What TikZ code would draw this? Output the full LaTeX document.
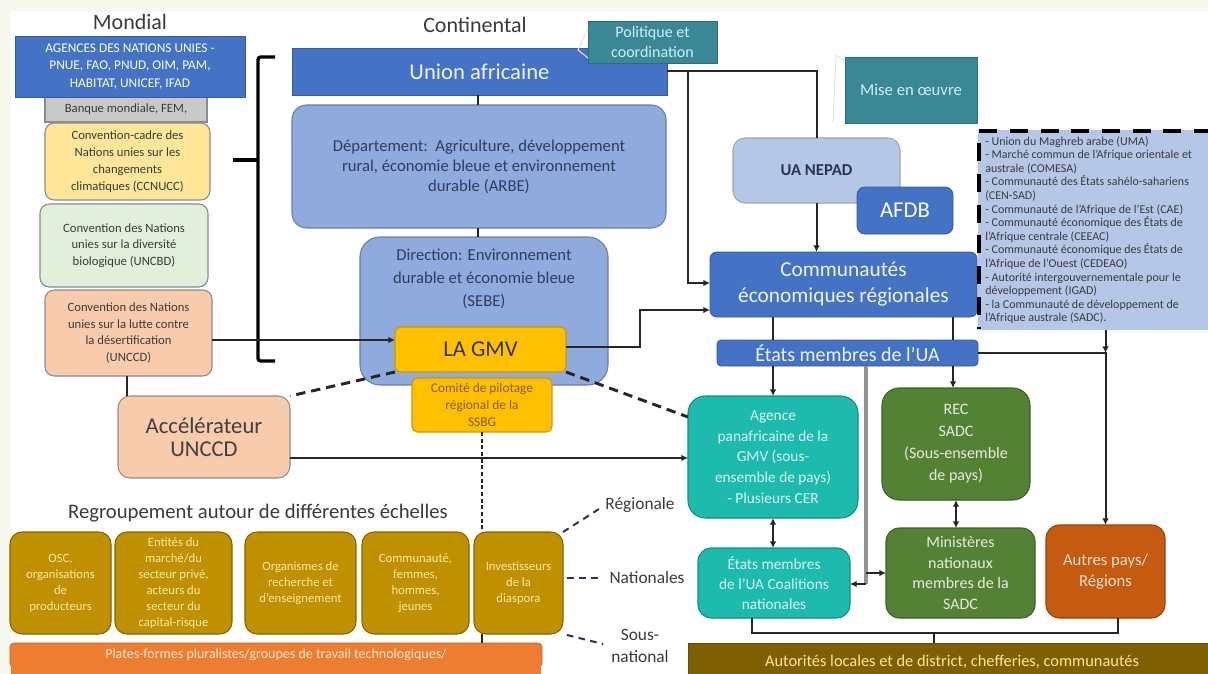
\documentclass[tikz,border=0pt]{standalone}
\usepackage{fontspec}
\setmainfont{Carlito}
\usetikzlibrary{arrows.meta,calc}
\newcommand\fs[2]{\fontsize{#1}{#2}\selectfont}
\newcommand\bx[7]{\node[box,#6,minimum width={(#4-#2)*0.75pt},minimum height={(#5-#3)*0.75pt}] (#1) at ({(#2+#4)/2},{(#3+#5)/2}) {#7};}
\definecolor{cream}{HTML}{F7F8EE}
\definecolor{ublue}{HTML}{4472C4}
\definecolor{dblue}{HTML}{8FAADC}
\definecolor{lblue}{HTML}{B4C7E7}
\definecolor{tealh}{HTML}{3A8896}
\definecolor{gold}{HTML}{FFC000}
\definecolor{olive}{HTML}{BF9000}
\definecolor{brownb}{HTML}{7F6000}
\definecolor{grn}{HTML}{548235}
\definecolor{tealb}{HTML}{1DBBAE}
\definecolor{rust}{HTML}{C55A11}
\definecolor{orng}{HTML}{ED7D31}
\definecolor{peach}{HTML}{F8CBAD}
\definecolor{lgreen}{HTML}{E2EFDA}
\definecolor{lyellow}{HTML}{FFE699}
\definecolor{lgray}{HTML}{C9C9C9}
\definecolor{ink}{HTML}{3B3B3B}
\definecolor{navyt}{HTML}{2F3D60}
\definecolor{linec}{HTML}{262626}
\definecolor{navyd}{HTML}{2A3550}
\definecolor{calloutc}{HTML}{E2ECC4}
\begin{document}
\begin{tikzpicture}[x=0.75pt,y=-0.75pt,
  box/.style={inner sep=0pt,outer sep=0pt,align=center},
  pastel/.style={draw=black!45,line width=0.8pt,text=ink},
  ln/.style={draw=linec,line width=1.5pt},
  arr/.style={ln,-{Latex[length=5pt,width=5pt]}},
  darr/.style={ln,{Latex[length=5pt,width=5pt]}-{Latex[length=5pt,width=5pt]}},
  dsh/.style={draw=linec,line width=2.2pt,dash pattern=on 7pt off 4.5pt},
  vdsh/.style={draw=linec,line width=1.6pt,dash pattern=on 3pt off 2pt},
  sdsh/.style={draw=navyd,line width=1.5pt,dash pattern=on 5pt off 4pt},
  brk/.style={draw=black,line width=2.5pt,rounded corners=2pt},
  greyl/.style={draw=gray!85,line width=3pt},
  lbl/.style={inner sep=0pt,align=center,text=ink},
  callout/.style={draw=calloutc,line width=0.8pt},
  olivebox/.style={fill=olive,draw=olive!70!black,line width=0.8pt,rounded corners=9pt,text=lyellow!85!white,font=\fs{9.5}{12}}
]
\useasboundingbox (0,0) rectangle (1208,674);
\fill[cream] (0,0) rectangle (1208,674);
\fill[white] (11,12) rectangle (1208,674);

% helper coordinates
\coordinate (X127) at (127,0);
\coordinate (X478) at (478,0);
\coordinate (X640) at (640,0);
\coordinate (X688) at (688,0);
\coordinate (X752) at (752,0);
\coordinate (X773) at (773,0);
\coordinate (X866) at (866,0);
\coordinate (X934) at (934,0);
\coordinate (X953) at (953,0);
\coordinate (X1118) at (1118,0);
\coordinate (Y283) at (0,283);
\coordinate (Y310) at (0,310);
\coordinate (Y340) at (0,340);
\coordinate (Y347) at (0,347);
\coordinate (Y417) at (0,417);
\coordinate (Y458) at (0,458);
\coordinate (Y573) at (0,573);
\coordinate (Y584) at (0,584);
\coordinate (Y633) at (0,633);

% titles
\node[lbl,font=\fs{16.5}{19}] (tmond) at (130,22) {Mondial};
\node[lbl,font=\fs{16.5}{19}] (tcont) at (475,25) {Continental};

% Mondial column
\bx{banque}{45}{96}{207}{122}{pastel,fill=lgray,font=\fs{9.5}{11}}{Banque mondiale, FEM,}
\bx{agences}{15}{36}{245}{97}{fill=ublue,draw=ublue!80!black,line width=0.6pt,text=white,font=\fs{10}{12.8}}{AGENCES DES NATIONS UNIES -\\PNUE, FAO, PNUD, OIM, PAM,\\HABITAT, UNICEF, IFAD}
\bx{ccnucc}{45}{123}{210}{200}{pastel,fill=lyellow,rounded corners=7pt,font=\fs{9.5}{12.6}}{Convention-cadre des\\Nations unies sur les\\changements\\climatiques (CCNUCC)}
\bx{uncbd}{40}{204}{208}{287}{pastel,fill=lgreen,rounded corners=7pt,font=\fs{9.5}{12.6}}{Convention des Nations\\unies sur la diversité\\biologique (UNCBD)}
\bx{unccd}{45}{290}{212}{376}{pastel,fill=peach,rounded corners=7pt,font=\fs{9.5}{12.6}}{Convention des Nations\\unies sur la lutte contre\\la désertification\\(UNCCD)}
\bx{accel}{118}{396}{290}{478}{pastel,fill=peach,rounded corners=9pt,font=\fs{17}{17.5},text=black!75}{Accélérateur\\UNCCD}

% bracket
\draw[brk] (275,57) -- (258,57) -- (258,361) -- (275,361);
\draw[brk] (233,160) -- (258,160);

% Continental column
\bx{ua}{292}{48}{667}{95}{fill=ublue,draw=ublue!80!black,line width=0.6pt,text=white!92!ublue,font=\fs{17}{20}}{Union africaine}
\bx{polit}{588}{21}{717}{63}{fill=tealh,draw=tealh!80!black,line width=0.5pt,text=cyan!20!white,font=\fs{12}{15}}{Politique et\\coordination}
\draw[callout] (588,28) -- (578,50) -- (588,58);
\bx{dept}{292}{105}{666}{228}{fill=dblue,draw=dblue!75!black,line width=0.8pt,rounded corners=11pt,text=navyt,font=\fs{12.5}{15}}{Département:\ \ Agriculture, développement\\rural, économie bleue et environnement\\durable (ARBE)}
\bx{dirb}{360}{237}{608}{385}{fill=dblue,draw=dblue!75!black,line width=0.8pt,rounded corners=15pt}{}
\node[lbl,text=navyt,font=\fs{12.5}{17}] (dirt) at (484,279) {Direction: Environnement\\durable et économie bleue\\(SEBE)};
\bx{gmv}{395}{327}{566}{372}{fill=gold,draw=gold!80!black,line width=0.8pt,rounded corners=4pt,text=black!80,font=\fs{17}{20}}{LA GMV}
\bx{comite}{412}{378}{552}{432}{fill=gold,draw=gold!80!black,line width=0.8pt,rounded corners=4pt,text=brown!70!black,font=\fs{10}{12.8}}{Comité de pilotage\\régional de la\\SSBG}

% right upper part
\bx{mise}{845}{57}{977}{123}{fill=tealh,draw=tealh!80!black,line width=0.5pt,text=cyan!20!white,font=\fs{12.5}{15}}{Mise en œuvre}
\draw[callout] (845,62) -- (836,55) -- (833,122);
\bx{nepad}{733}{138}{900}{203}{fill=lblue,draw=black!35,line width=0.8pt,rounded corners=9pt,text=navyd,font=\bfseries\fs{12.5}{15}}{UA NEPAD}
\bx{afdb}{857}{187}{953}{234}{fill=ublue,draw=ublue!80!black,line width=0.6pt,rounded corners=6pt,text=white,font=\fs{17}{20}}{AFDB}
\bx{cer}{710}{252}{977}{317}{fill=ublue,draw=ublue!80!black,line width=0.6pt,rounded corners=5pt,text=white!92!ublue,font=\fs{16}{19.5}}{Communautés\\économiques régionales}
\bx{etats}{717}{340}{978}{366}{fill=ublue,draw=ublue!80!black,line width=0.6pt,rounded corners=3pt,text=white!92!ublue,font=\fs{15}{17}}{États membres de l'UA}

% list box
\bx{list}{978}{130}{1215}{330}{fill=lblue}{}
\draw[draw=black,line width=3pt,dash pattern=on 13.5pt off 9.5pt] (1212,131) -- (979,131) -- (979,329);
\node[anchor=north west,align=left,inner sep=0pt,text=ink,font=\fs{9}{10.2}] (listt) at (985,136) {- Union du Maghreb arabe (UMA)\\- Marché commun de l'Afrique orientale et\\australe (COMESA)\\- Communauté des États sahélo-sahariens\\(CEN-SAD)\\- Communauté de l'Afrique de l'Est (CAE)\\- Communauté économique des États de\\l'Afrique centrale (CEEAC)\\- Communauté économique des États de\\l'Afrique de l'Ouest (CEDEAO)\\- Autorité intergouvernementale pour le\\développement (IGAD)\\- la Communauté de développement de\\l'Afrique australe (SADC).};

% lower right boxes
\bx{agence}{688}{396}{858}{518}{fill=tealb,draw=tealb!75!black,line width=0.8pt,rounded corners=13pt,text=white!85!tealb,font=\fs{11.5}{15.5}}{Agence\\panafricaine de la\\GMV (sous-\\ensemble de pays)\\- Plusieurs CER}
\bx{rec}{882}{388}{1030}{500}{fill=grn,draw=grn!75!black,line width=0.8pt,rounded corners=13pt,text=white!85!grn,font=\fs{12}{16.5}}{REC\\SADC\\(Sous-ensemble\\de pays)}
\bx{coal}{698}{548}{850}{618}{fill=tealb,draw=tealb!75!black,line width=0.8pt,rounded corners=10pt,text=white!85!tealb,font=\fs{11.5}{15}}{États membres\\de l'UA Coalitions\\nationales}
\bx{mini}{886}{528}{1035}{618}{fill=grn,draw=grn!75!black,line width=0.8pt,rounded corners=10pt,text=white!85!grn,font=\fs{12}{15.5}}{Ministères\\nationaux\\membres de la\\SADC}
\bx{autres}{1046}{525}{1165}{618}{fill=rust,draw=rust!75!black,line width=0.8pt,rounded corners=10pt,text=white!82!rust,font=\fs{12.5}{16}}{Autres pays/\\Régions}
\bx{autor}{688}{643}{1216}{681}{fill=brownb,draw=brownb!80!black,line width=0.6pt,text=lyellow,font=\fs{12.3}{15}}{Autorités locales et de district, chefferies, communautés}

% lower left
\node[lbl,font=\fs{15.5}{18}] (regr) at (258,513) {Regroupement autour de différentes échelles};
\bx{osc}{10}{532}{111}{634}{olivebox}{OSC,\\organisations\\de\\producteurs}
\bx{entites}{115}{532}{232}{634}{olivebox}{Entités du\\marché/du\\secteur privé,\\acteurs du\\secteur du\\capital-risque}
\bx{orga}{245}{532}{356}{634}{olivebox}{Organismes de\\recherche et\\d'enseignement}
\bx{commu}{362}{532}{469}{634}{olivebox}{Communauté,\\femmes,\\hommes,\\jeunes}
\bx{invest}{474}{532}{563}{634}{olivebox}{Investisseurs\\de la\\diaspora}
\bx{plates}{10}{643}{542}{667}{fill=orng,draw=orng!80!black,line width=0.6pt,rounded corners=3pt,text=white!80!orng,font=\fs{10.5}{13}}{Plates-formes pluralistes/groupes de travail technologiques/}
\path[fill=orng] (11,660) rectangle (541,674);

\node[lbl,font=\fs{13}{16}] (reg) at (640,505) {Régionale};
\node[lbl,font=\fs{13}{16}] (nat) at (647,578) {Nationales};
\node[lbl,font=\fs{13}{16.5}] (sous) at (640,646) {Sous-\\national};

% connectors
\draw[arr] (Y340 -| unccd.east) -- (Y340 -| gmv.west);
\draw[ln] (X127 |- unccd.south) -- (X127 |- accel.north);
\draw[ln] (ua.south -| X478) -- (dept.north -| X478);
\draw[ln] (dept.south -| X478) -- (dirb.north -| X478);
\draw[ln] (ua.east) -| (nepad.north);
\draw[arr] (ua.east -| X688) |- (Y283 -| cer.west);
\draw[arr] (nepad.south) -- (nepad.south |- cer.north);
\draw[arr] (Y347 -| gmv.east) -| (X640 |- Y310) -- (Y310 -| cer.west);
\draw[ln] (X773 |- cer.south) -- (X773 |- etats.north);
\draw[ln] (X953 |- cer.south) -- (X953 |- etats.north);
\draw[arr] (X773 |- etats.south) -- (X773 |- agence.north);
\draw[arr] (X953 |- etats.south) -- (X953 |- rec.north);
\draw[greyl] (X866 |- etats.south) -- (X866 |- Y584);
\draw[arr] (X866 |- Y573) -- (Y573 -| mini.west);
\draw[arr] (X866 |- Y584) -- (Y584 -| coal.east);
\draw[darr] (agence.south) -- (agence.south |- coal.north);
\draw[darr] (rec.south) -- (rec.south |- mini.north);
\draw[arr] (etats.east) -| (autres.north);
\draw[arr] (list.south -| autres.north) -- (etats.east -| autres.north);
\draw[ln] (X752 |- coal.south) |- (X1118 |- Y633) -- (X1118 |- autres.south);
\draw[ln] (X934 |- Y633) -- (X934 |- autor.north);
\draw[arr] (Y458 -| accel.east) -- (Y458 -| agence.west);
\draw[dsh] (gmv.south west) -- (accel.north east);
\draw[dsh] (gmv.south east) -- (Y417 -| agence.west);
\draw[vdsh] (comite.south) -- (comite.south |- invest.north);
\draw[draw=linec,line width=1pt] (comite.south |- invest.south) -- (comite.south |- plates.north);
\draw[sdsh,shorten >=5pt] (invest.north east) -- (reg.west);
\draw[sdsh,shorten >=5pt,shorten <=3pt] (invest.east |- nat.west) -- (nat.west);
\draw[sdsh,shorten >=6pt,shorten <=3pt] (invest.south east) -- (sous.west);
\end{tikzpicture}
\end{document}
